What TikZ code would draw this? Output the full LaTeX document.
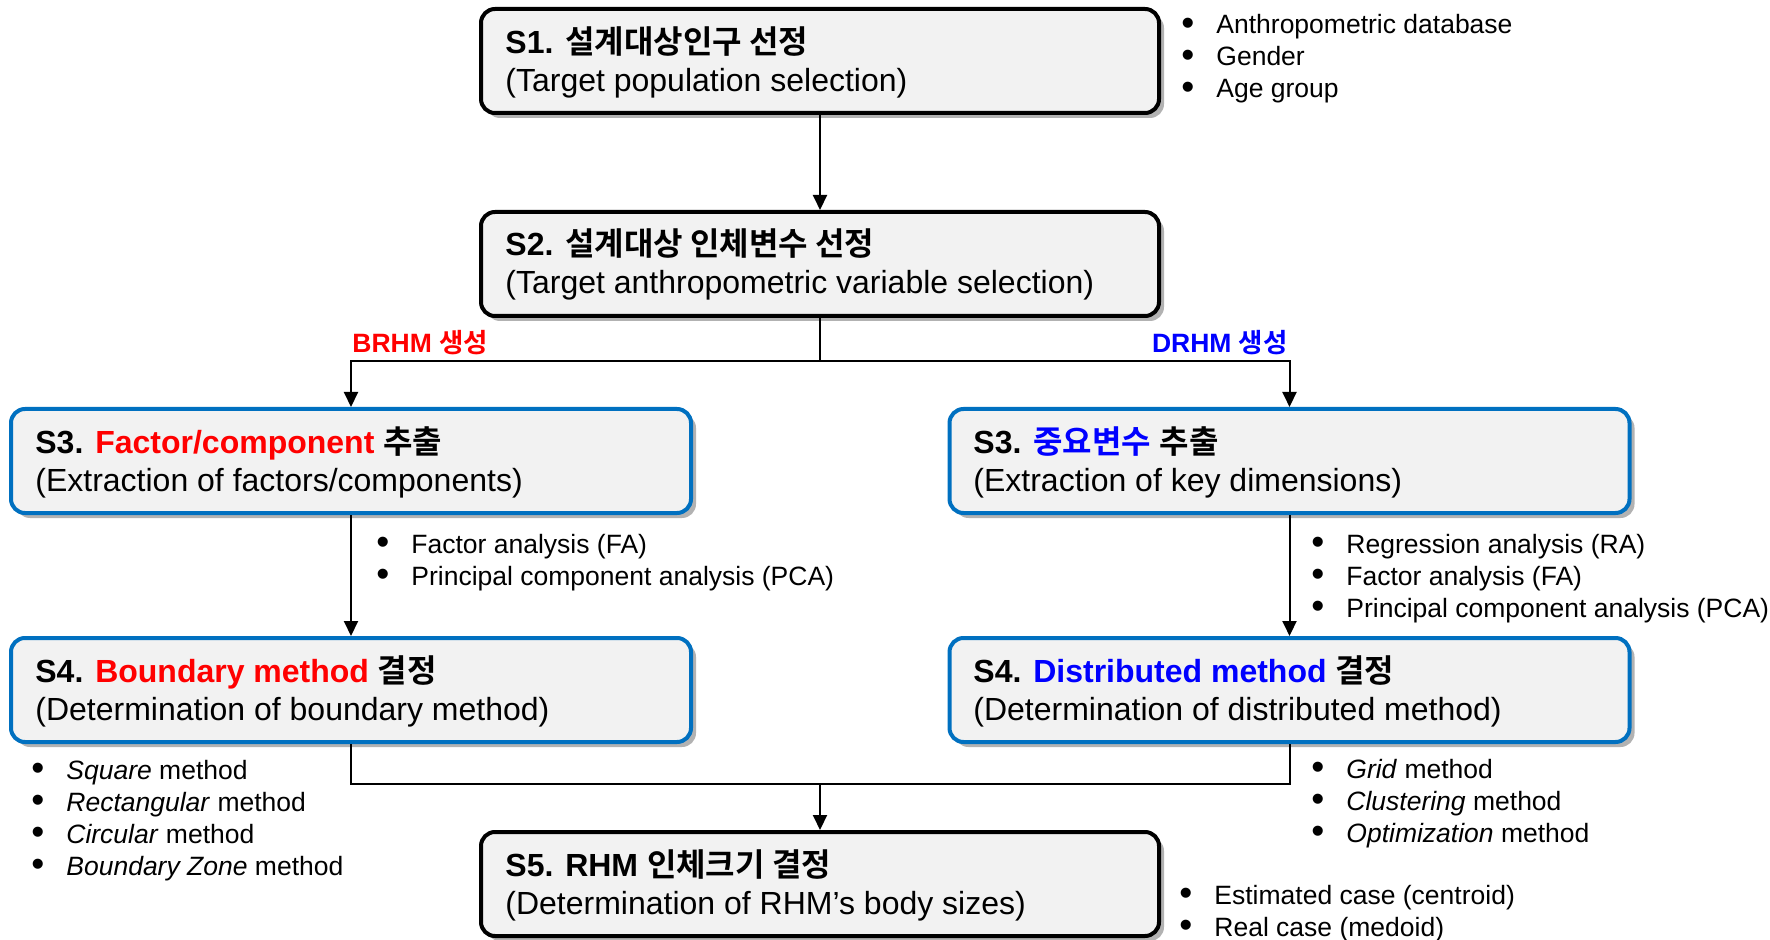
\documentclass[tikz,border=0pt]{standalone}
\usepackage{fontspec}
\setmainfont{Liberation Sans}
\newfontfamily\krfont{Noto Sans CJK KR}[BoldFont={Noto Sans CJK KR Bold}]
\usetikzlibrary{arrows.meta,shadows}
\definecolor{boxblue}{RGB}{0,112,192}
\definecolor{boxfill}{RGB}{242,242,242}
\definecolor{tred}{RGB}{255,0,0}
\definecolor{tblue}{RGB}{0,0,255}
\newcommand\kr[1]{{\krfont #1}}
\newcommand\boxtext[2]{{\fontsize{16}{19}\selectfont\renewcommand\arraystretch{1}\begin{tabular}[t]{@{}l@{}}\bfseries #1\\ #2\end{tabular}}}
\newcommand\itemlist[1]{{\fontsize{13.25}{16}\selectfont\renewcommand\arraystretch{1}\begin{tabular}[t]{@{}l@{}}#1\end{tabular}}}
\newcommand\bul{\makebox[17.5pt][l]{\raisebox{-0.07em}{\scalebox{1.4}{•}}}}
\begin{document}
\begin{tikzpicture}[x=0.5pt,y=-0.5pt,
  stepbox/.style={draw, line width=2pt, rounded corners=7pt, fill=boxfill, minimum height=52pt,
    drop shadow={shadow xshift=2.5pt, shadow yshift=-2.5pt, opacity=0.3, fill=black}},
  blackbox/.style={stepbox, draw=black, minimum width=339pt},
  bluebox/.style={stepbox, draw=boxblue, minimum width=340pt},
  boxlabel/.style={anchor=base west, inner sep=0pt},
  listnode/.style={anchor=base west, inner sep=0pt},
  branchlabel/.style={inner sep=0pt, font=\fontsize{13.25}{16}\selectfont\bfseries},
  conn/.style={line width=1pt, draw=black},
  arr/.style={conn, -{Triangle[length=7.5pt,width=7pt]}}]
\useasboundingbox (0,0) rectangle (1770,940);
% boxes
\node[blackbox] (s1) at (820,61) {};
\node[blackbox] (s2) at (820,264) {};
\node[bluebox] (s3l) at (351,461) {};
\node[bluebox] (s3r) at (1289.5,461) {};
\node[bluebox] (s4l) at (351,690) {};
\node[bluebox] (s4r) at (1289.5,690) {};
\node[blackbox] (s5) at (820,884) {};
% box texts
\node[boxlabel] (s1t) at (505,54) {\boxtext{S1. \kr{설계대상인구 선정}}{(Target population selection)}};
\node[boxlabel] (s2t) at (505,256) {\boxtext{S2. \kr{설계대상 인체변수 선정}}{(Target anthropometric variable selection)}};
\node[boxlabel] (s3lt) at (35,453) {\boxtext{S3. \textcolor{tred}{Factor/component} \kr{추출}}{(Extraction of factors/components)}};
\node[boxlabel] (s3rt) at (973,453) {\boxtext{S3. \textcolor{tblue}{\kr{중요변수}} \kr{추출}}{(Extraction of key dimensions)}};
\node[boxlabel] (s4lt) at (35,682) {\boxtext{S4. \textcolor{tred}{Boundary method} \kr{결정}}{(Determination of boundary method)}};
\node[boxlabel] (s4rt) at (973,682) {\boxtext{S4. \textcolor{tblue}{Distributed method} \kr{결정}}{(Determination of distributed method)}};
\node[boxlabel] (s5t) at (505,876) {\boxtext{S5. RHM \kr{인체크기 결정}}{(Determination of RHM’s body sizes)}};
% connectors
\draw[arr] (s1.south) -- (s2.north);
\coordinate (split) at (820,361);
\draw[conn] (s2.south) -- (split);
\draw[arr] (split) -| (s3l.north);
\draw[arr] (split) -| (s3r.north);
\draw[arr] (s3l.south) -- (s4l.north);
\draw[arr] (s3r.south) -- (s4r.north);
\coordinate (merge) at (820,784);
\draw[conn] (s4l.south) |- (merge) -| (s4r.south);
\draw[arr] (merge) -- (s5.north);
% branch labels
\node[branchlabel, anchor=base west, text=tred] (brhm) at (352,353) {BRHM \kr{생성}};
\node[branchlabel, anchor=base east, text=tblue] (drhm) at (1288,353) {DRHM \kr{생성}};
% lists
\node[listnode] (l1) at (1181,34) {\itemlist{\bul Anthropometric database\\ \bul Gender\\ \bul Age group}};
\node[listnode] (l3l) at (376,553) {\itemlist{\bul Factor analysis (FA)\\ \bul Principal component analysis (PCA)}};
\node[listnode] (l3r) at (1311,553) {\itemlist{\bul Regression analysis (RA)\\ \bul Factor analysis (FA)\\ \bul Principal component analysis (PCA)}};
\node[listnode] (l4l) at (31,779) {\itemlist{\bul \textit{Square} method\\ \bul \textit{Rectangular} method\\ \bul \textit{Circular} method\\ \bul \textit{Boundary Zone} method}};
\node[listnode] (l4r) at (1311,778) {\itemlist{\bul \textit{Grid} method\\ \bul \textit{Clustering} method\\ \bul \textit{Optimization} method}};
\node[listnode] (l5) at (1179,904) {\itemlist{\bul Estimated case (centroid)\\ \bul Real case (medoid)}};
\end{tikzpicture}
\end{document}
